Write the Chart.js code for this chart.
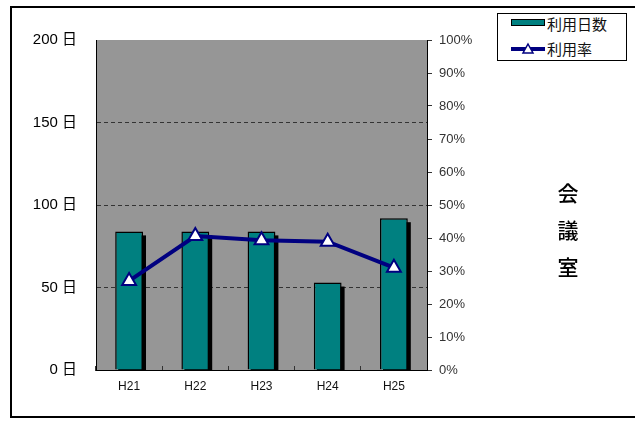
<!DOCTYPE html>
<html><head><meta charset="utf-8">
<script src="https://cdn.jsdelivr.net/npm/chart.js@4/dist/chart.umd.min.js"></script>
<style>
html,body{margin:0;padding:0;background:#fff;}
#wrap{position:relative;width:635px;height:423px;overflow:hidden;}
#frame{position:absolute;left:10px;top:6px;width:640px;height:412px;border:2px solid #000;box-sizing:border-box;}
#c{position:absolute;left:0;top:0;}
#legend{position:absolute;left:497px;top:13px;width:130px;height:48px;border:1px solid #000;box-sizing:border-box;background:#fff;}
.lt{position:absolute;font-family:"Noto Sans CJK JP","Noto Sans CJK SC",sans-serif;font-size:15px;line-height:18px;color:#111;white-space:nowrap;}
#sw1{position:absolute;left:13px;top:5px;width:34px;height:7px;background:#008080;border:1.5px solid #000;box-sizing:border-box;}
#sw2{position:absolute;left:13px;top:28px;}
#side{position:absolute;left:556px;top:174px;width:24px;font-family:"Noto Sans CJK JP",sans-serif;font-size:21px;font-weight:500;line-height:37px;color:#000;text-align:center;}
</style>
</head><body>
<div id="wrap">
<div id="frame"></div>
<canvas id="c" width="635" height="423"></canvas>
<div id="legend">
  <div id="sw1"></div><span class="lt" id="l1" style="left:49px;top:1px;"></span>
  <svg id="sw2" width="36" height="14" viewBox="0 0 36 14"><line x1="0" y1="7" x2="34" y2="7" stroke="#000080" stroke-width="4"/><polygon points="17,2 22,11 12,11" fill="#fff" stroke="#000080" stroke-width="1.5"/></svg><span class="lt" id="l2" style="left:49px;top:26px;"></span>
</div>
<div id="side">会<br>議<br>室</div>
</div>
<script>
const categories = ['H21', 'H22', 'H23', 'H24', 'H25'];
const usageDays = [84, 84, 84, 53, 92];
const usageRate = [27, 40.6, 39.3, 38.9, 31];
const dayTicks = [0, 50, 100, 150, 200];
const rateTicks = [0, 10, 20, 30, 40, 50, 60, 70, 80, 90, 100];
const seriesNames = ['利用日数', '利用率'];

document.getElementById('l1').textContent = seriesNames[0];
document.getElementById('l2').textContent = seriesNames[1];

const plotBg = {
  id: 'plotBg',
  beforeDraw(chart) {
    const {ctx, chartArea: a} = chart;
    ctx.save();
    ctx.fillStyle = '#969696';
    ctx.fillRect(a.left, a.top, a.right - a.left, a.bottom - a.top);
    ctx.restore();
  }
};
const barShadow = {
  id: 'barShadow',
  beforeDatasetsDraw(chart) {
    const {ctx, chartArea: a} = chart;
    const meta = chart.getDatasetMeta(0);
    ctx.save();
    ctx.beginPath();
    ctx.rect(a.left, a.top, a.right - a.left, a.bottom - a.top);
    ctx.clip();
    ctx.fillStyle = '#000';
    meta.data.forEach(el => {
      const p = el.getProps(['x', 'y', 'base', 'width'], true);
      ctx.fillRect(p.x - p.width / 2 + 3, p.y + 4, p.width, p.base - p.y);
    });
    ctx.restore();
  }
};

new Chart(document.getElementById('c'), {
  data: {
    labels: categories,
    datasets: [
      {
        type: 'bar', label: seriesNames[0], data: usageDays, yAxisID: 'y',
        backgroundColor: '#008080', borderColor: '#000', borderWidth: 1.5,
        categoryPercentage: 1, barPercentage: 0.42, order: 2
      },
      {
        type: 'line', label: seriesNames[1], data: usageRate, yAxisID: 'y1',
        borderColor: '#000080', borderWidth: 4, tension: 0,
        pointStyle: 'triangle', pointRadius: 8, pointHoverRadius: 8,
        pointBackgroundColor: '#fff', pointBorderColor: '#000080', pointBorderWidth: 2,
        order: 1
      }
    ]
  },
  options: {
    responsive: false,
    animation: false,
    layout: {padding: {top: 40, left: 0, right: 0, bottom: 0}},
    plugins: {legend: {display: false}, tooltip: {enabled: false}},
    scales: {
      x: {
        grid: {offset: true, drawOnChartArea: false, tickLength: -4, color: '#333'},
        border: {color: '#000', width: 1},
        ticks: {color: '#111', padding: 13, font: {family: '"Liberation Sans", Arial, sans-serif', size: 12}},
        afterFit(s) { s.height = 53; }
      },
      y: {
        position: 'left', min: 0, max: 200,
        afterBuildTicks(s) { s.ticks = dayTicks.map(v => ({value: v})); },
        ticks: {
          callback: v => v + ' 日', color: '#000', padding: 19,
          font: {family: '"Liberation Sans", "Noto Sans CJK JP", sans-serif', size: 15}
        },
        grid: {
          drawTicks: false,
          color: c => (c.tick && (c.tick.value === 0 || c.tick.value === 200)) ? 'rgba(0,0,0,0)' : '#333'
        },
        border: {color: '#000', width: 1, dash: [4, 3]},
        afterFit(s) { s.width = 96; }
      },
      y1: {
        position: 'right', min: 0, max: 100,
        afterBuildTicks(s) { s.ticks = rateTicks.map(v => ({value: v})); },
        ticks: {
          callback: v => v + '%', color: '#333', padding: 7,
          font: {family: '"Liberation Sans", Arial, sans-serif', size: 13}
        },
        grid: {drawOnChartArea: false, tickLength: 5, color: '#333'},
        border: {color: '#000', width: 1},
        afterFit(s) { s.width = 208; }
      }
    }
  },
  plugins: [plotBg, barShadow]
});
</script>
</body></html>
